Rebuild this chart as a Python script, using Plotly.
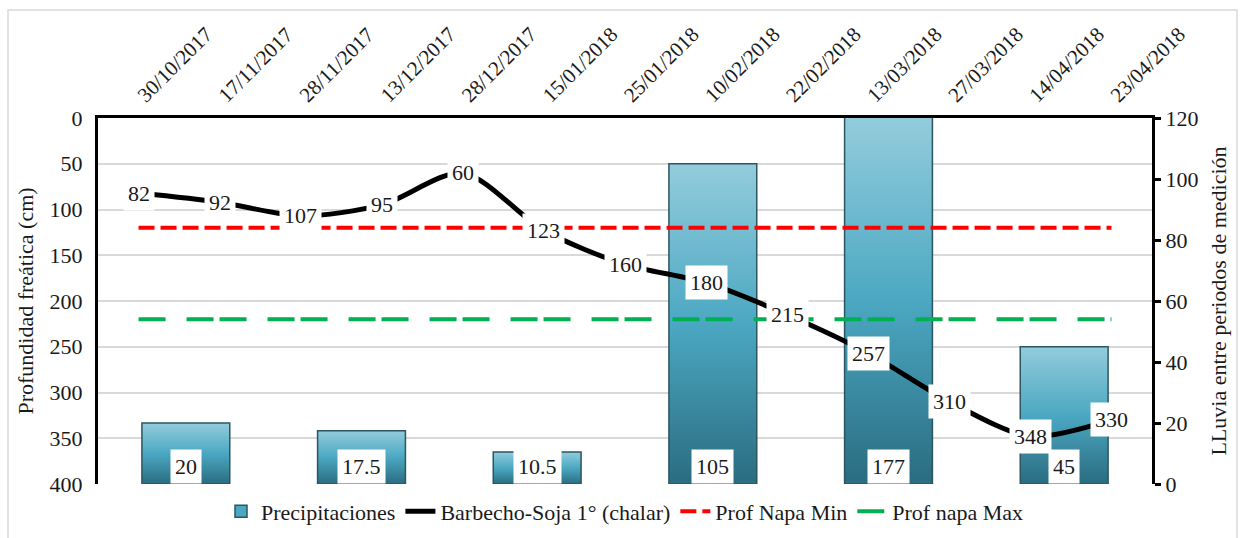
import plotly.graph_objects as go

# Measurement dates (water-table readings)
fechas = ["30/10/2017", "17/11/2017", "28/11/2017", "13/12/2017", "28/12/2017",
          "15/01/2018", "25/01/2018", "10/02/2018", "22/02/2018", "13/03/2018",
          "27/03/2018", "14/04/2018", "23/04/2018"]
# Water-table depth (cm) under fallow - soybean 1st
profundidad = [82, 92, 107, 95, 60, 123, 160, 180, 215, 257, 310, 348, 330]
# Rainfall between measurement periods (mm)
lluvia = [20, 17.5, 10.5, 105, 177, 45]
# Reference water-table levels (cm)
napa_min = 120
napa_max = 220

FONT = "Liberation Serif"
TXT = "#1a1a1a"
W, H = 1244, 538
ML, MR, MT, MB = 98, 92, 118, 54
PW, PH = W - ML - MR, H - MT - MB
LLUVIA_MAX = 120

fig = go.Figure()

# Legend entry for the rain bars (square swatch, no drawn data)
fig.add_trace(go.Bar(
    x=[None], y=[None], name="Precipitaciones",
    marker=dict(color="#4ba8c2", line=dict(color="#2c5561", width=1.5)),
    xaxis="x", yaxis="y", hoverinfo="skip",
))

# Rain bars as gradient-filled rectangles on the base (right-hand) axes
half = 0.25
for i, v in enumerate(lluvia):
    fig.add_trace(go.Scatter(
        x=[i - half, i - half, i + half, i + half, i - half],
        y=[0, v, v, 0, 0],
        mode="lines", fill="toself",
        line=dict(color="#2c5561", width=1.5),
        fillgradient=dict(type="vertical",
                          colorscale=[[0, "#2a6c80"], [0.5, "#4ba8c2"], [1, "#93ccdc"]],
                          start=0, stop=min(v, LLUVIA_MAX)),
        name="Precipitaciones", showlegend=False,
        hoverinfo="skip", xaxis="x", yaxis="y",
    ))

# Depth series and reference levels on the overlay (date / depth) axes
fig.add_trace(go.Scatter(
    x=fechas, y=profundidad, mode="lines",
    line=dict(color="black", width=5, shape="spline", smoothing=0.8),
    name="Barbecho-Soja 1° (chalar)", xaxis="x2", yaxis="y2",
))
fig.add_trace(go.Scatter(
    x=[fechas[0], fechas[-1]], y=[napa_min, napa_min], mode="lines",
    line=dict(color="#ff0000", width=4, dash="16px,6px"),
    name="Prof Napa Min", xaxis="x2", yaxis="y2",
))
fig.add_trace(go.Scatter(
    x=[fechas[0], fechas[-1]], y=[napa_max, napa_max], mode="lines",
    line=dict(color="#00b050", width=4, dash="27px,21px,27px,6px"),
    name="Prof napa Max", xaxis="x2", yaxis="y2",
))

annotations = []
for i, v in enumerate(profundidad):
    annotations.append(dict(
        x=i, y=v, xref="x2", yref="y2", text=str(v), showarrow=False,
        bgcolor="white", borderpad=4, font=dict(family=FONT, size=22, color=TXT),
    ))
for i, v in enumerate(lluvia):
    annotations.append(dict(
        x=i, y=0, xref="x", yref="y", text=f"{v:g}", showarrow=False,
        yanchor="bottom", bgcolor="white", borderpad=4,
        font=dict(family=FONT, size=22, color=TXT),
    ))

fig.update_layout(
    width=W, height=H,
    margin=dict(l=ML, r=MR, t=MT, b=MB, autoexpand=False),
    paper_bgcolor="white", plot_bgcolor="white",
    font=dict(family=FONT, size=22, color=TXT),
    showlegend=True,
    legend=dict(orientation="h", x=0.5, xanchor="center", y=-0.075, yanchor="middle",
                font=dict(family=FONT, size=22, color=TXT),
                itemwidth=30, bgcolor="rgba(0,0,0,0)"),
    xaxis=dict(range=[-0.5, len(lluvia) - 0.5], visible=False, fixedrange=True),
    yaxis=dict(range=[0, LLUVIA_MAX], dtick=20, side="right", showgrid=False,
               zeroline=False, showline=True, linecolor="black", linewidth=3,
               ticks="outside", ticklen=6, tickwidth=2.5, tickcolor="black",
               tickfont=dict(family=FONT, size=22, color=TXT),
               title=dict(text="LLuvia entre periodos de medición", standoff=14,
                          font=dict(family=FONT, size=22, color=TXT))),
    xaxis2=dict(type="category", categoryorder="array", categoryarray=fechas,
                range=[-0.5, len(fechas) - 0.5], overlaying="x", anchor="y2",
                side="top", tickangle=-45, showgrid=False, showline=True,
                linecolor="black", linewidth=3, ticks="",
                tickfont=dict(family=FONT, size=21, color=TXT)),
    yaxis2=dict(range=[400, 0], dtick=50, overlaying="y", anchor="x2", side="left",
                showgrid=True, gridcolor="#d9d9d9", gridwidth=1.5, zeroline=False,
                showline=True, linecolor="black", linewidth=3, ticks="",
                ticklabelstandoff=8,
                tickfont=dict(family=FONT, size=22, color=TXT),
                title=dict(text="Profundidad freática (cm)", standoff=10,
                           font=dict(family=FONT, size=22, color=TXT))),
    annotations=annotations,
    shapes=[dict(type="rect", xref="paper", yref="paper",
                 x0=(8 - ML) / PW, x1=(1237 - ML) / PW,
                 y0=(H - MT - 560) / PH, y1=(H - MB - 10) / PH,
                 line=dict(color="#d9d9d9", width=1.5), layer="below")],
)

fig.write_html("out.html")
